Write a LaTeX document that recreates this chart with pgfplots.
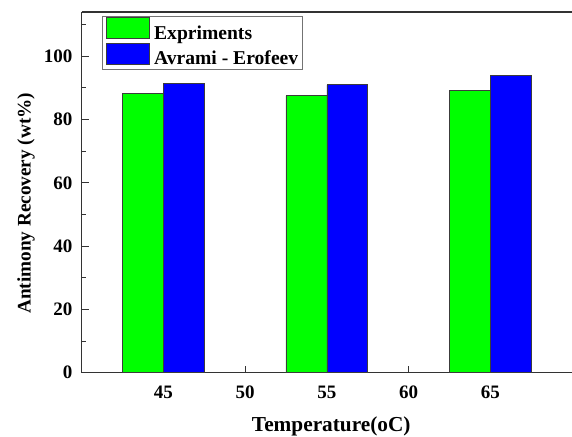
\documentclass[border=0pt]{standalone}
\usepackage{pgfplots}
\pgfplotsset{compat=1.18}
\usepackage{fontspec}
\setmainfont{Liberation Serif}
\definecolor{bargreen}{RGB}{0,255,0}
\definecolor{barblue}{RGB}{0,0,255}
\definecolor{edgegray}{RGB}{60,60,60}
\begin{document}
\begin{tikzpicture}
\useasboundingbox (-81.7pt,-63.3pt) rectangle (490.3pt,372.7pt);
\begin{axis}[
  scale only axis,
  width=490.3pt, height=360.7pt,
  xmin=40, xmax=70, ymin=0, ymax=114,
  axis x line*=box, axis y line*=left,
  xtick pos=bottom, ytick pos=left,
  axis line style={line width=1.1pt, color=black!80},
  every tick/.style={line width=1pt, color=black!80},
  tick align=inside,
  major tick length=7pt, minor tick length=4.5pt,
  xtick={45,50,55,60,65},
  ytick={0,20,40,60,80,100},
  minor ytick={10,30,50,70,90,110},
  /pgf/number format/assume math mode=true,
  tick label style={font=\bfseries\fontsize{19}{22}\selectfont},
  yticklabel style={inner sep=0pt, anchor=east, xshift=-9pt},
  xticklabel style={inner sep=0pt, anchor=north, yshift=-13pt},
  xlabel={Temperature(oC)},
  ylabel={Antimony Recovery (wt\%)},
  x label style={font=\bfseries\fontsize{21.3}{24}\selectfont, at={(axis description cs:0.509,0)}, anchor=base, yshift=-59pt},
  y label style={font=\bfseries\fontsize{19.2}{23}\selectfont, at={(axis description cs:-0.1136,0.4697)}, anchor=center},
  legend style={at={(axis description cs:0.0414,0.9897)}, anchor=north west,
    draw=black!55, line width=0.9pt, inner xsep=3.2pt, inner ysep=1.1pt,
    column sep=3pt, row sep=0pt,
    nodes={inner sep=1.5pt},
    font=\bfseries\fontsize{19.6}{23}\selectfont},
  legend cell align=left,
  legend image code/.code={\draw[#1] (0pt,-5.1pt) rectangle (43.3pt,15.9pt);},
]
\addplot[ybar, bar width=2.5, bar shift=-1.25, fill=bargreen, draw=edgegray, line width=0.7pt]
  coordinates {(45,88.2) (55,87.6) (65,89.2)};
\addlegendentry{Expriments}
\addplot[ybar, bar width=2.5, bar shift=1.25, fill=barblue, draw=edgegray, line width=0.7pt]
  coordinates {(45,91.4) (55,91.0) (65,93.9)};
\addlegendentry{Avrami - Erofeev}
\end{axis}
\end{tikzpicture}
\end{document}
